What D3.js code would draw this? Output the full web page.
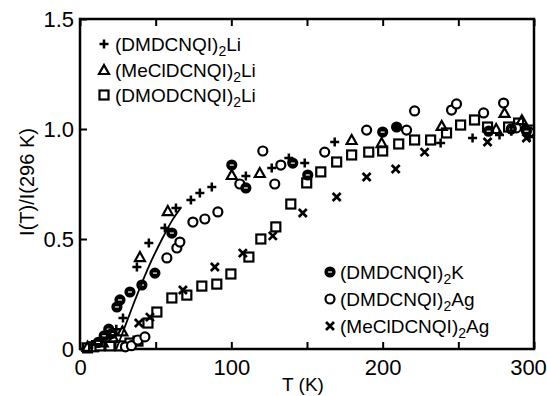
<!DOCTYPE html>
<html><head><meta charset="utf-8">
<script src="https://cdn.jsdelivr.net/npm/d3@7"></script>
<style>body{margin:0;background:#fff}svg{display:block}text{font-family:"Liberation Sans",Arial,sans-serif;fill:#000}</style>
</head><body><svg id="c" width="547" height="396"></svg>
<script>
// (DMDCNQI)2Li  (+)
const plusT = [8,14,20,24,28.4,37.6,45.5,56.1,63.4,73.3,79.2,87.1,109.6,126.7,138,148.5,168.3,209.9,238.3,259.4,277.2,285,297];
const plusV = [0.02,0.04,0.06,0.09,0.141,0.373,0.482,0.55,0.641,0.677,0.709,0.736,0.786,0.823,0.868,0.845,0.941,1.009,0.936,0.959,0.973,0.99,0.964];
// (MeClDCNQI)2Li (triangle)
const triT = [5,15,22,28,39.6,58,100.3,118.8,179.5,199.3,239,275,280.5,292];
const triV = [0.01,0.03,0.05,0.08,0.418,0.627,0.791,0.8,0.95,0.936,1.014,1.0,1.073,1.04];
// (DMODCNQI)2Li (square)
const sqT = [5,9,13.2,19.8,26.4,33,38.3,44.9,50.8,60.7,70.6,80.5,90.4,99.7,111.6,119.5,129.4,139.3,149.8,159.1,169.6,179.5,190.8,200,210.6,221.1,231.7,242.2,251.5,260.7,269.3,283.2,289.8,297];
const sqV = [0.005,0.01,0.014,0.014,0.014,0.027,0.036,0.118,0.168,0.232,0.245,0.286,0.295,0.341,0.418,0.5,0.555,0.659,0.755,0.805,0.85,0.882,0.895,0.9,0.932,0.95,0.95,0.982,1.018,1.041,1.009,1.009,1.027,0.995];
// (DMDCNQI)2K
const kT = [12,16,19,21,24.4,26.4,33,40.9,49.5,60.7,100.3,109.6,140.6,150.5,200,209.2,270,285,295];
const kV = [0.03,0.06,0.09,0.07,0.191,0.223,0.259,0.291,0.345,0.527,0.836,0.732,0.845,0.791,0.986,1.009,0.99,1.0,0.99];
// (DMDCNQI)2Ag (open circle)
const cirT = [30,34,38.3,42.9,57.4,64,66,74.6,82.5,91.1,105.6,120.8,128.7,132.7,161.7,189.4,215.8,221.1,245.5,248.8,266.7,279.9,288.4,297];
const cirV = [0.01,0.015,0.041,0.055,0.414,0.459,0.486,0.577,0.591,0.623,0.75,0.9,0.75,0.836,0.895,0.995,0.995,1.082,1.086,1.114,1.073,1.118,1.005,0.986];
// (MeClDCNQI)2Ag (x)
const xT = [38.9,46.2,68,89.1,107.6,127.4,147.2,169.6,189.4,208.6,227.7,269.3,295];
const xV = [0.118,0.145,0.268,0.373,0.436,0.514,0.618,0.691,0.782,0.818,0.895,0.941,0.959];
// guide curve
const curveT = [24,28,35,46,55,61,67];
const curveV = [0,0.07,0.2,0.39,0.51,0.59,0.645];

const xTicks = [0,50,100,150,200,250,300];
const xLabels = ["0","","100","","200","","300"];
const yTicks = [0,0.5,1.0,1.5];
const yLabels = ["0","0.5","1.0","1.5"];

const svg = d3.select("#c");
const x = d3.scaleLinear().domain([0,300]).range([80,534]);
const y = d3.scaleLinear().domain([0,1.5]).range([349,19]);

// axes
const gx = svg.append("g").attr("transform","translate(0,349)")
  .call(d3.axisBottom(x).tickValues(xTicks).tickSize(-7).tickPadding(10).tickFormat((d,i)=>xLabels[i]));
const gxt = svg.append("g").attr("transform","translate(0,19)")
  .call(d3.axisTop(x).tickValues(xTicks).tickSize(-7).tickFormat(""));
const gy = svg.append("g").attr("transform","translate(80,0)")
  .call(d3.axisLeft(y).tickValues(yTicks).tickSize(-7).tickPadding(6).tickFormat((d,i)=>yLabels[i]));
[gx,gxt,gy].forEach(g=>{
  g.select(".domain").remove();
  g.selectAll(".tick line").attr("stroke","#000").attr("stroke-width",2);
  g.selectAll("text").attr("font-size",22).attr("font-family","Liberation Sans, Arial, sans-serif");
});
gx.selectAll(".tick text").filter(d=>d===300).attr("dx",-6);
svg.append("rect").attr("x",x(0)).attr("y",y(1.5)).attr("width",x(300)-x(0)).attr("height",y(0)-y(1.5))
  .attr("fill","none").attr("stroke","#000").attr("stroke-width",2.5);

// axis titles
svg.append("text").attr("x",303).attr("y",391).attr("text-anchor","middle").attr("font-size",19).text("T (K)");
svg.append("text").attr("transform","translate(34,182) rotate(-90)").attr("text-anchor","middle").attr("font-size",20).text("I(T)/I(296 K)");

// marker painters
const sw = 2.2;
function plus(g,cx,cy,s=4.5){g.append("path").attr("d",`M${cx-s},${cy}H${cx+s}M${cx},${cy-s}V${cy+s}`).attr("stroke","#000").attr("stroke-width",2.5).attr("fill","none");}
function cross(g,cx,cy,s=4){g.append("path").attr("d",`M${cx-s},${cy-s}L${cx+s},${cy+s}M${cx-s},${cy+s}L${cx+s},${cy-s}`).attr("stroke","#000").attr("stroke-width",2.7).attr("fill","none");}
function tri(g,cx,cy,s=5){g.append("path").attr("d",`M${cx},${cy-s}L${cx+s},${cy+s*0.8}L${cx-s},${cy+s*0.8}Z`).attr("stroke","#000").attr("stroke-width",sw).attr("fill","none");}
function sq(g,cx,cy,s=4.5){g.append("rect").attr("x",cx-s).attr("y",cy-s).attr("width",2*s).attr("height",2*s).attr("stroke","#000").attr("stroke-width",sw).attr("fill","#fff");}
function cir(g,cx,cy,r=4.5){g.append("circle").attr("cx",cx).attr("cy",cy).attr("r",r).attr("stroke","#000").attr("stroke-width",sw).attr("fill","#fff");}
function kmark(g,cx,cy,r=4.5){g.append("circle").attr("cx",cx).attr("cy",cy).attr("r",r).attr("stroke","#000").attr("stroke-width",2.2).attr("fill","#000");
  g.append("path").attr("d",`M${cx-2},${cy}H${cx+2}`).attr("stroke","#fff").attr("stroke-width",1.2);}

const pts = svg.append("g");
function draw(T,V,fn){T.forEach((t,i)=>fn(pts,x(t),y(V[i])));}
draw(sqT,sqV,sq);
draw(cirT,cirV,cir);
draw(xT,xV,cross);
draw(triT,triV,tri);
draw(kT,kV,kmark);
draw(plusT,plusV,plus);

// curve
svg.append("path").datum(curveT.map((t,i)=>[t,curveV[i]]))
  .attr("d",d3.line().x(d=>x(d[0])).y(d=>y(d[1])).curve(d3.curveBasis))
  .attr("fill","none").attr("stroke","#000").attr("stroke-width",1.8);

// legends
const leg1 = [{n:"(DMDCNQI)",s:"2",e:"Li",f:plus},{n:"(MeClDCNQI)",s:"2",e:"Li",f:tri},{n:"(DMODCNQI)",s:"2",e:"Li",f:sq}];
const leg1Y = [44,70,95];
leg1.forEach((d,i)=>{
  d.f(svg,104,leg1Y[i]);
  const t = svg.append("text").attr("x",115).attr("y",leg1Y[i]+7).attr("font-size",19);
  t.append("tspan").text(d.n);
  t.append("tspan").attr("dy",5).attr("font-size",14).text(d.s);
  t.append("tspan").attr("dy",-5).text(d.e);
});
const leg2 = [{n:"(DMDCNQI)",s:"2",e:"K",f:kmark},{n:"(DMDCNQI)",s:"2",e:"Ag",f:cir},{n:"(MeClDCNQI)",s:"2",e:"Ag",f:cross}];
const leg2Y = [272,299,326];
leg2.forEach((d,i)=>{
  d.f(svg,330,leg2Y[i]);
  const t = svg.append("text").attr("x",340).attr("y",leg2Y[i]+7).attr("font-size",19);
  t.append("tspan").text(d.n);
  t.append("tspan").attr("dy",5).attr("font-size",14).text(d.s);
  t.append("tspan").attr("dy",-5).text(d.e);
});
</script></body></html>
